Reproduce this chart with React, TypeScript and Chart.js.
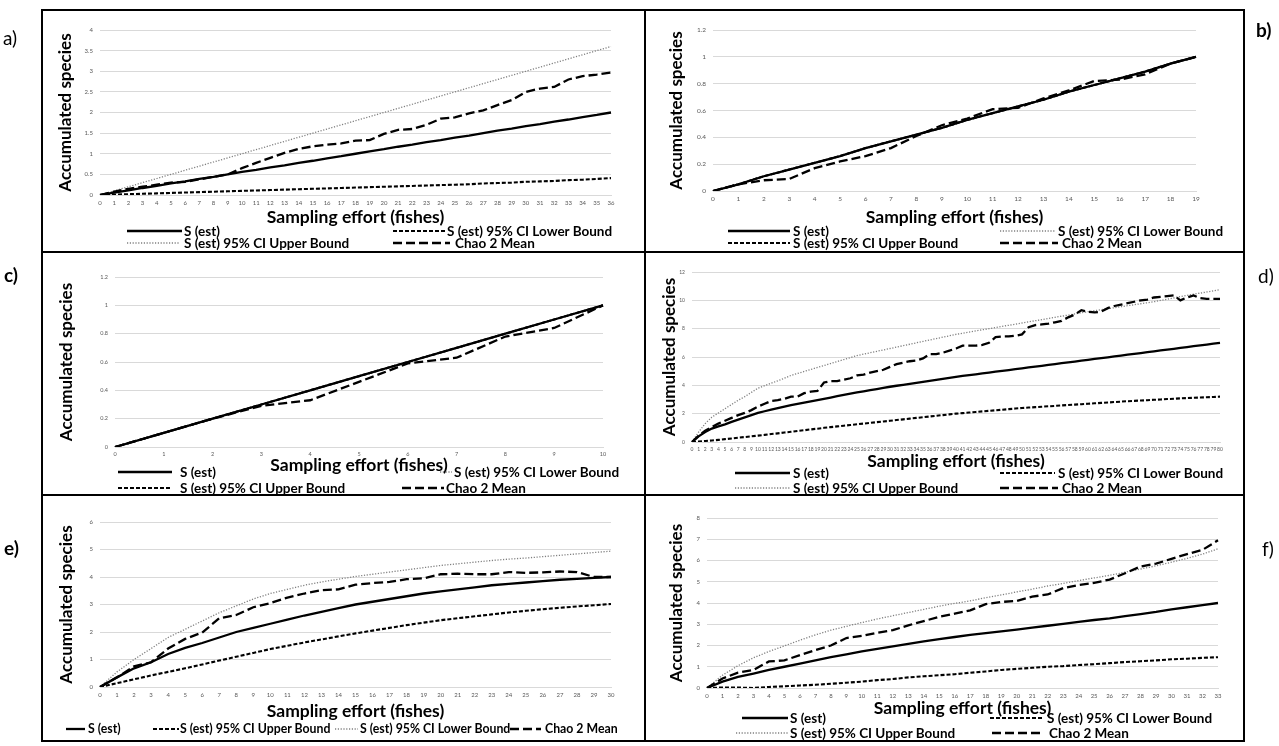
import React, { useEffect, useRef } from "react";
import { Chart, registerables } from "chart.js";

Chart.register(...registerables);

const FONT = 'Lato, "Open Sans", Arial, sans-serif';

// ---------- Panel a ----------
const A_X = ["0","1","2","3","4","5","6","7","8","9","10","11","12","13","14","15","16","17","18","19","20","21","22","23","24","25","26","27","28","29","30","31","32","33","34","35","36"];
const A_SEST = [0,0.06,0.11,0.17,0.22,0.28,0.33,0.39,0.44,0.5,0.56,0.61,0.67,0.72,0.78,0.83,0.89,0.94,1.0,1.06,1.11,1.17,1.22,1.28,1.33,1.39,1.44,1.5,1.56,1.61,1.67,1.72,1.78,1.83,1.89,1.94,2.0];
const A_LOWER = [0,0.01,0.02,0.03,0.04,0.05,0.06,0.07,0.08,0.09,0.1,0.11,0.12,0.13,0.14,0.15,0.16,0.17,0.18,0.19,0.2,0.21,0.22,0.23,0.24,0.25,0.26,0.28,0.29,0.3,0.32,0.33,0.34,0.36,0.37,0.39,0.41];
const A_UPPER = [0,0.1,0.2,0.3,0.4,0.5,0.6,0.7,0.8,0.9,1.0,1.1,1.2,1.3,1.4,1.5,1.6,1.7,1.8,1.9,2.0,2.1,2.2,2.3,2.4,2.5,2.6,2.7,2.8,2.9,3.0,3.1,3.2,3.3,3.4,3.5,3.6];
const A_CHAO = [0,0.08,0.15,0.2,0.25,0.3,0.32,0.38,0.44,0.5,0.65,0.78,0.9,1.02,1.12,1.18,1.22,1.25,1.32,1.33,1.48,1.58,1.6,1.7,1.85,1.88,1.98,2.05,2.18,2.3,2.5,2.58,2.62,2.8,2.88,2.92,2.97];

// ---------- Panel b ----------
const B_X = ["0","1","2","3","4","5","6","7","8","9","10","11","12","13","14","15","16","17","18","19"];
const B_SEST = [0,0.05,0.11,0.16,0.21,0.26,0.32,0.37,0.42,0.47,0.53,0.58,0.63,0.68,0.74,0.79,0.84,0.89,0.95,1.0];
const B_LOWER = [0,0.05,0.11,0.16,0.21,0.26,0.32,0.37,0.42,0.47,0.53,0.58,0.63,0.68,0.74,0.79,0.84,0.89,0.95,1.0];
const B_UPPER = [0,0.05,0.11,0.16,0.21,0.26,0.32,0.37,0.42,0.47,0.53,0.58,0.63,0.68,0.74,0.79,0.84,0.89,0.95,1.0];
const B_CHAO = [0,0.05,0.08,0.09,0.17,0.22,0.26,0.32,0.41,0.49,0.54,0.61,0.62,0.69,0.75,0.82,0.83,0.87,0.95,1.0];

// ---------- Panel c ----------
const C_X = ["0","1","2","3","4","5","6","7","8","9","10"];
const C_SEST = [0,0.1,0.2,0.3,0.4,0.5,0.6,0.7,0.8,0.9,1.0];
const C_LOWER = [0,0.1,0.2,0.3,0.4,0.5,0.6,0.7,0.8,0.9,1.0];
const C_UPPER = [0,0.1,0.2,0.3,0.4,0.5,0.6,0.7,0.8,0.9,1.0];
const C_CHAO = [0,0.1,0.2,0.29,0.33,0.46,0.59,0.63,0.78,0.84,1.0];

// ---------- Panel d ----------
const D_X = ["0","1","2","3","4","5","6","7","8","9","10","11","12","13","14","15","16","17","18","19","20","21","22","23","24","25","26","27","28","29","30","31","32","33","34","35","36","37","38","39","40","41","42","43","44","45","46","47","48","49","50","51","52","53","54","55","56","57","58","59","60","61","62","63","64","65","66","67","68","69","70","71","72","73","74","75","76","77","78","79","80"];
const D_SEST = [0,0.4,0.7,0.95,1.1,1.25,1.42,1.58,1.74,1.9,
  2.05,2.17,2.28,2.39,2.5,2.6,2.69,2.78,2.87,2.96,
  3.05,3.14,3.23,3.32,3.41,3.5,3.58,3.66,3.74,3.82,
  3.9,3.97,4.04,4.11,4.18,4.25,4.32,4.39,4.46,4.53,
  4.6,4.66,4.72,4.78,4.84,4.9,4.96,5.02,5.08,5.14,
  5.2,5.26,5.32,5.38,5.44,5.5,5.56,5.62,5.68,5.74,
  5.8,5.86,5.92,5.98,6.04,6.1,6.16,6.22,6.28,6.34,
  6.4,6.46,6.52,6.58,6.64,6.7,6.76,6.82,6.88,6.94,
  7.0];
const D_LOWER = [0,0.03,0.07,0.11,0.15,0.2,0.25,0.3,0.35,0.4,
  0.45,0.5,0.56,0.61,0.67,0.72,0.78,0.83,0.89,0.94,
  1.0,1.05,1.1,1.15,1.2,1.25,1.3,1.35,1.4,1.45,
  1.5,1.55,1.6,1.65,1.7,1.75,1.8,1.85,1.9,1.95,
  2.0,2.04,2.08,2.12,2.16,2.2,2.24,2.28,2.32,2.36,
  2.4,2.43,2.46,2.49,2.52,2.55,2.58,2.61,2.64,2.67,
  2.7,2.73,2.76,2.79,2.82,2.85,2.88,2.9,2.93,2.95,
  2.98,3.0,3.03,3.05,3.08,3.1,3.12,3.14,3.16,3.18,
  3.2];
const D_UPPER = [0,0.7,1.3,1.75,2.05,2.35,2.65,2.95,3.2,3.5,
  3.8,3.98,4.15,4.32,4.5,4.7,4.84,4.98,5.12,5.26,
  5.4,5.54,5.68,5.82,5.96,6.1,6.2,6.3,6.4,6.5,
  6.6,6.7,6.8,6.9,7.0,7.1,7.2,7.3,7.4,7.5,
  7.6,7.68,7.76,7.84,7.92,8.0,8.08,8.16,8.24,8.32,
  8.4,8.48,8.56,8.64,8.72,8.8,8.88,8.96,9.04,9.12,
  9.2,9.27,9.34,9.41,9.48,9.55,9.62,9.69,9.76,9.83,
  9.9,9.99,10.08,10.17,10.26,10.35,10.43,10.51,10.59,10.67,
  10.75];
const D_CHAO = [0,0.45,0.8,1.05,1.3,1.5,1.7,1.9,2.05,2.25,
  2.5,2.7,2.9,2.95,3.05,3.2,3.2,3.45,3.55,3.6,
  4.2,4.3,4.3,4.4,4.5,4.7,4.75,4.9,5.0,5.1,
  5.3,5.5,5.6,5.7,5.75,5.9,6.2,6.2,6.3,6.45,
  6.6,6.8,6.8,6.8,6.85,7.0,7.4,7.45,7.45,7.5,
  7.6,8.1,8.25,8.3,8.35,8.45,8.55,8.8,9.0,9.3,
  9.2,9.15,9.2,9.45,9.6,9.7,9.8,9.9,10.0,10.05,
  10.2,10.25,10.3,10.35,10.0,10.2,10.35,10.15,10.1,10.1,
  10.1];

// ---------- Panel e ----------
const E_X = ["0","1","2","3","4","5","6","7","8","9","10","11","12","13","14","15","16","17","18","19","20","21","22","23","24","25","26","27","28","29","30"];
const E_SEST = [0,0.35,0.68,0.9,1.2,1.42,1.6,1.8,2.0,2.15,2.3,2.45,2.6,2.73,2.87,3.0,3.1,3.2,3.3,3.4,3.48,3.55,3.62,3.7,3.75,3.8,3.85,3.9,3.93,3.97,4.0];
const E_SHORTDASH = [0,0.14,0.28,0.42,0.55,0.68,0.82,0.96,1.1,1.24,1.38,1.5,1.62,1.73,1.84,1.95,2.05,2.15,2.25,2.34,2.43,2.5,2.57,2.64,2.71,2.77,2.83,2.88,2.93,2.97,3.02];
const E_DOTTED = [0,0.55,1.0,1.4,1.8,2.1,2.4,2.7,2.95,3.2,3.4,3.55,3.7,3.82,3.92,4.02,4.1,4.18,4.26,4.34,4.42,4.48,4.54,4.6,4.65,4.69,4.74,4.79,4.84,4.89,4.94];
const E_CHAO = [0,0.35,0.75,0.9,1.4,1.75,1.98,2.5,2.62,2.9,3.05,3.25,3.4,3.52,3.55,3.72,3.78,3.82,3.92,3.95,4.1,4.12,4.1,4.1,4.18,4.15,4.17,4.2,4.18,4.0,4.0];

// ---------- Panel f ----------
const F_X = ["0","1","2","3","4","5","6","7","8","9","10","11","12","13","14","15","16","17","18","19","20","21","22","23","24","25","26","27","28","29","30","31","32","33"];
const F_SEST = [0,0.3,0.52,0.68,0.85,1.0,1.15,1.3,1.45,1.58,1.72,1.84,1.96,2.08,2.19,2.3,2.4,2.5,2.58,2.66,2.75,2.84,2.93,3.02,3.11,3.2,3.28,3.38,3.48,3.58,3.7,3.8,3.9,4.0];
const F_LOWER = [0,0.02,0.02,0.0,0.05,0.08,0.12,0.15,0.2,0.25,0.3,0.37,0.42,0.5,0.55,0.6,0.65,0.72,0.78,0.85,0.9,0.95,1.0,1.03,1.08,1.12,1.17,1.22,1.26,1.3,1.35,1.38,1.42,1.45];
const F_UPPER = [0,0.6,1.05,1.42,1.72,1.98,2.25,2.5,2.72,2.9,3.08,3.25,3.4,3.55,3.7,3.85,3.98,4.1,4.25,4.38,4.52,4.65,4.8,4.92,5.05,5.18,5.3,5.45,5.6,5.75,5.92,6.1,6.3,6.55];
const F_CHAO = [0,0.45,0.72,0.85,1.25,1.3,1.55,1.78,2.0,2.35,2.45,2.6,2.72,2.95,3.15,3.35,3.5,3.65,3.95,4.05,4.1,4.3,4.4,4.7,4.85,4.95,5.1,5.4,5.72,5.85,6.08,6.3,6.5,6.95];

const LBL_SEST = "S (est)";
const LBL_LOWER = "S (est) 95% CI Lower Bound";
const LBL_UPPER = "S (est) 95% CI Upper Bound";
const LBL_CHAO = "Chao 2 Mean";
const X_TITLE = "Sampling effort (fishes)";
const Y_TITLE = "Accumulated species";

type StyleKey = "solid" | "short" | "dot" | "long";
const STYLES: Record<StyleKey, { color: string; width: number; dash: number[] }> = {
  solid: { color: "#000000", width: 2.3, dash: [] },
  short: { color: "#000000", width: 2.1, dash: [4, 2] },
  dot: { color: "#808080", width: 1.3, dash: [1.2, 1.6] },
  long: { color: "#000000", width: 2.3, dash: [9, 4] },
};

interface Series { label: string; data: number[]; style: StyleKey }
interface LegendItem { style: StyleKey; label: string; x1: number; x2: number; tx: number; y: number }
interface PanelDef {
  id: string;
  box: [number, number, number, number];
  plot: [number, number, number, number];
  yTitleX: number;
  xTitleY: number;
  labels: string[];
  yMax: number;
  yStep: number;
  tickSize: number;
  series: Series[];
  legend: LegendItem[];
  legendSize: number;
}

const PANELS: PanelDef[] = [
  {
    id: "a", box: [41, 9, 646, 253], plot: [100, 30, 611, 195], yTitleX: 66, xTitleY: 217,
    labels: A_X, yMax: 4, yStep: 0.5, tickSize: 6,
    series: [
      { label: LBL_SEST, data: A_SEST, style: "solid" },
      { label: LBL_CHAO, data: A_CHAO, style: "long" },
      { label: LBL_LOWER, data: A_LOWER, style: "short" },
      { label: LBL_UPPER, data: A_UPPER, style: "dot" },
    ],
    legendSize: 13.5,
    legend: [
      { style: "solid", label: LBL_SEST, x1: 127, x2: 182, tx: 184, y: 231 },
      { style: "short", label: LBL_LOWER, x1: 393, x2: 445, tx: 447, y: 231 },
      { style: "dot", label: LBL_UPPER, x1: 127, x2: 180, tx: 184, y: 243 },
      { style: "long", label: LBL_CHAO, x1: 393, x2: 450, tx: 455, y: 243 },
    ],
  },
  {
    id: "b", box: [644, 9, 1245, 253], plot: [713, 30, 1196, 191], yTitleX: 677, xTitleY: 217,
    labels: B_X, yMax: 1.2, yStep: 0.2, tickSize: 6.5,
    series: [
      { label: LBL_SEST, data: B_SEST, style: "solid" },
      { label: LBL_CHAO, data: B_CHAO, style: "long" },
      { label: LBL_UPPER, data: B_UPPER, style: "short" },
      { label: LBL_LOWER, data: B_LOWER, style: "dot" },
    ],
    legendSize: 13.5,
    legend: [
      { style: "solid", label: LBL_SEST, x1: 728, x2: 790, tx: 793, y: 231 },
      { style: "dot", label: LBL_LOWER, x1: 1000, x2: 1055, tx: 1058, y: 231 },
      { style: "short", label: LBL_UPPER, x1: 728, x2: 790, tx: 793, y: 243 },
      { style: "long", label: LBL_CHAO, x1: 1000, x2: 1058, tx: 1062, y: 243 },
    ],
  },
  {
    id: "c", box: [41, 251, 646, 496], plot: [115, 277, 603, 447], yTitleX: 67, xTitleY: 465,
    labels: C_X, yMax: 1.2, yStep: 0.2, tickSize: 5.5,
    series: [
      { label: LBL_SEST, data: C_SEST, style: "solid" },
      { label: LBL_CHAO, data: C_CHAO, style: "long" },
      { label: LBL_UPPER, data: C_UPPER, style: "short" },
      { label: LBL_LOWER, data: C_LOWER, style: "dot" },
    ],
    legendSize: 13.5,
    legend: [
      { style: "solid", label: LBL_SEST, x1: 118, x2: 172, tx: 180, y: 472 },
      { style: "dot", label: LBL_LOWER, x1: 440, x2: 452, tx: 454, y: 472 },
      { style: "short", label: LBL_UPPER, x1: 118, x2: 172, tx: 180, y: 488 },
      { style: "long", label: LBL_CHAO, x1: 402, x2: 444, tx: 446, y: 488 },
    ],
  },
  {
    id: "d", box: [644, 251, 1245, 496], plot: [692, 272, 1220, 442], yTitleX: 670, xTitleY: 461,
    labels: D_X, yMax: 12, yStep: 2, tickSize: 5,
    series: [
      { label: LBL_SEST, data: D_SEST, style: "solid" },
      { label: LBL_CHAO, data: D_CHAO, style: "long" },
      { label: LBL_LOWER, data: D_LOWER, style: "short" },
      { label: LBL_UPPER, data: D_UPPER, style: "dot" },
    ],
    legendSize: 13.5,
    legend: [
      { style: "solid", label: LBL_SEST, x1: 735, x2: 790, tx: 793, y: 473 },
      { style: "short", label: LBL_LOWER, x1: 1000, x2: 1055, tx: 1058, y: 473 },
      { style: "dot", label: LBL_UPPER, x1: 735, x2: 790, tx: 793, y: 488 },
      { style: "long", label: LBL_CHAO, x1: 1000, x2: 1058, tx: 1062, y: 488 },
    ],
  },
  {
    id: "e", box: [41, 494, 646, 742], plot: [100, 522, 611, 687], yTitleX: 67, xTitleY: 711,
    labels: E_X, yMax: 6, yStep: 1, tickSize: 6,
    series: [
      { label: LBL_SEST, data: E_SEST, style: "solid" },
      { label: LBL_CHAO, data: E_CHAO, style: "long" },
      { label: LBL_UPPER, data: E_SHORTDASH, style: "short" },
      { label: LBL_LOWER, data: E_DOTTED, style: "dot" },
    ],
    legendSize: 12.3,
    legend: [
      { style: "solid", label: LBL_SEST, x1: 66, x2: 85, tx: 88, y: 729 },
      { style: "short", label: LBL_UPPER, x1: 153, x2: 179, tx: 180, y: 729 },
      { style: "dot", label: LBL_LOWER, x1: 335, x2: 358, tx: 360, y: 729 },
      { style: "long", label: LBL_CHAO, x1: 510, x2: 541, tx: 545, y: 729 },
    ],
  },
  {
    id: "f", box: [644, 494, 1245, 742], plot: [707, 518, 1218, 688], yTitleX: 677, xTitleY: 708,
    labels: F_X, yMax: 8, yStep: 1, tickSize: 6,
    series: [
      { label: LBL_SEST, data: F_SEST, style: "solid" },
      { label: LBL_CHAO, data: F_CHAO, style: "long" },
      { label: LBL_LOWER, data: F_LOWER, style: "short" },
      { label: LBL_UPPER, data: F_UPPER, style: "dot" },
    ],
    legendSize: 13.5,
    legend: [
      { style: "solid", label: LBL_SEST, x1: 742, x2: 788, tx: 790, y: 718 },
      { style: "short", label: LBL_LOWER, x1: 990, x2: 1044, tx: 1047, y: 718 },
      { style: "dot", label: LBL_UPPER, x1: 736, x2: 788, tx: 790, y: 733 },
      { style: "long", label: LBL_CHAO, x1: 992, x2: 1044, tx: 1049, y: 733 },
    ],
  },
];

const PANEL_TAGS = [
  { text: "a)", x: 3, y: 38, bold: false },
  { text: "b)", x: 1256, y: 30, bold: true },
  { text: "c)", x: 4, y: 275, bold: true },
  { text: "d)", x: 1258, y: 276, bold: false },
  { text: "e)", x: 4, y: 548, bold: true },
  { text: "f)", x: 1262, y: 549, bold: false },
];

const Y_TITLE_SIZE = 17;
const X_TITLE_SIZE = 17.5;

const fmtTick = (v: number | string) => String(Number(Number(v).toFixed(2)));

function Panel({ def }: { def: PanelDef }) {
  const ref = useRef<HTMLCanvasElement>(null);
  const [bl, bt, br, bb] = def.box;
  const ox = bl + 2;
  const oy = bt + 2;
  const cw = br - bl - 4;
  const ch = bb - bt - 4;

  useEffect(() => {
    const [pl, pt, pr, pb] = def.plot;
    const lhY = Y_TITLE_SIZE * 1.2;
    const lhX = X_TITLE_SIZE * 1.2;
    const padLeft = def.yTitleX - ox - lhY / 2;
    const yAxisW = pl - ox - padLeft;
    const axisBottom = def.xTitleY - oy + lhX / 2;
    const padBottom = ch - axisBottom;
    const xAxisH = axisBottom - (pb - oy);
    const chart = new Chart(ref.current as HTMLCanvasElement, {
      type: "line",
      data: {
        labels: def.labels,
        datasets: def.series.map((s) => ({
          label: s.label,
          data: s.data,
          borderColor: STYLES[s.style].color,
          borderWidth: STYLES[s.style].width,
          borderDash: STYLES[s.style].dash,
          pointRadius: 0,
          fill: false,
          tension: 0,
        })),
      },
      options: {
        animation: false,
        responsive: false,
        maintainAspectRatio: false,
        layout: { padding: { top: pt - oy, right: ox + cw - pr, bottom: padBottom, left: padLeft } },
        plugins: { legend: { display: false }, tooltip: { enabled: false } },
        scales: {
          x: {
            type: "category",
            offset: false,
            grid: { display: false, drawTicks: false },
            border: { display: true, color: "#d9d9d9" },
            ticks: { autoSkip: false, maxRotation: 0, minRotation: 0, color: "#595959", padding: 4, font: { family: FONT, size: def.tickSize } },
            title: { display: true, text: X_TITLE, color: "#000", padding: 0, font: { family: FONT, size: X_TITLE_SIZE, weight: "bold" } },
            afterFit: (s: any) => { s.height = xAxisH; },
          },
          y: {
            min: 0,
            max: def.yMax,
            grid: { color: "#d9d9d9", drawTicks: false },
            border: { display: false },
            ticks: { stepSize: def.yStep, color: "#595959", padding: 7, font: { family: FONT, size: def.tickSize }, callback: (v: number | string) => fmtTick(v) },
            title: { display: true, text: Y_TITLE, color: "#000", padding: 0, font: { family: FONT, size: Y_TITLE_SIZE, weight: "bold" } },
            afterFit: (s: any) => { s.width = yAxisW; },
          },
        },
      } as any,
    });
    return () => chart.destroy();
  }, []);

  return (
    <>
      <canvas
        ref={ref}
        width={cw}
        height={ch}
        style={{ position: "absolute", left: ox, top: oy, width: cw, height: ch }}
      />
      <div
        style={{
          position: "absolute", left: bl, top: bt, width: br - bl, height: bb - bt,
          border: "2px solid #000", boxSizing: "border-box", pointerEvents: "none",
        }}
      />
      {def.legend.map((it, i) => {
        const st = STYLES[it.style];
        const w = it.x2 - it.x1;
        return (
          <React.Fragment key={i}>
            <svg
              width={w}
              height={6}
              style={{ position: "absolute", left: it.x1, top: it.y - 3, overflow: "visible" }}
            >
              <line
                x1={0} y1={3} x2={w} y2={3}
                stroke={st.color}
                strokeWidth={st.width}
                strokeDasharray={st.dash.length ? st.dash.join(" ") : undefined}
              />
            </svg>
            <div
              style={{
                position: "absolute", left: it.tx, top: it.y - def.legendSize * 0.6,
                fontFamily: FONT, fontSize: def.legendSize, lineHeight: `${def.legendSize * 1.2}px`,
                fontWeight: 700, color: "#000", whiteSpace: "nowrap",
              }}
            >
              {it.label}
            </div>
          </React.Fragment>
        );
      })}
    </>
  );
}

export default function App() {
  return (
    <div style={{ position: "fixed", left: 0, top: 0, width: 1279, height: 746, background: "#fff", overflow: "hidden" }}>
      {PANELS.map((p) => (
        <Panel key={p.id} def={p} />
      ))}
      {PANEL_TAGS.map((t) => (
        <div
          key={t.text}
          style={{
            position: "absolute", left: t.x, top: t.y - 11, fontFamily: FONT, fontSize: 19,
            lineHeight: "22px", fontWeight: t.bold ? 700 : 400, color: "#000",
          }}
        >
          {t.text}
        </div>
      ))}
    </div>
  );
}
